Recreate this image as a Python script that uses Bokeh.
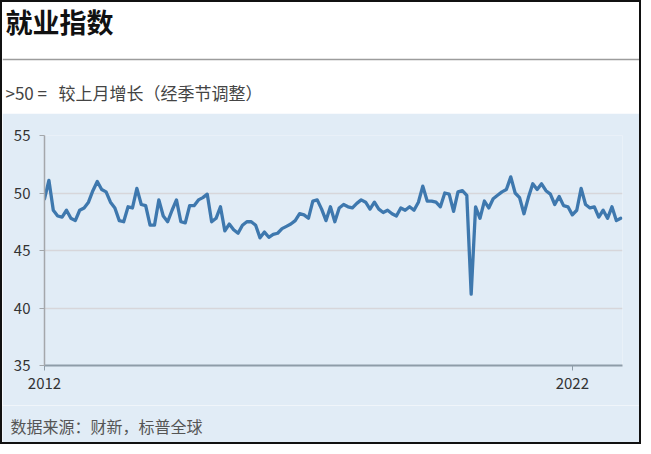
from bokeh.plotting import figure
from bokeh.models import Range1d, FixedTicker, Label, Span
from bokeh.layouts import column
from bokeh.embed import file_html
from bokeh.resources import INLINE

# ---- data (monthly, Jan 2012 - Dec 2022) ----
start_year = 2012
employment_index = [
    49.5, 51.1, 48.5, 48.0, 47.9, 48.5, 47.8, 47.6, 48.5, 48.7, 49.2, 50.2,   # 2012
    51.0, 50.3, 50.1, 49.2, 48.7, 47.6, 47.5, 48.8, 48.7, 50.4, 49.0, 48.9,   # 2013
    47.2, 47.2, 49.4, 48.0, 47.5, 48.5, 49.4, 47.5, 47.4, 48.9, 48.9, 49.4,   # 2014
    49.6, 49.9, 47.5, 47.8, 48.8, 46.7, 47.3, 46.8, 46.5, 47.2, 47.5, 47.5,   # 2015
    47.2, 46.1, 46.6, 46.15, 46.4, 46.5, 46.9, 47.1, 47.3, 47.6, 48.2, 48.1,  # 2016
    47.8, 49.3, 49.4, 48.6, 47.6, 48.8, 47.5, 48.7, 49.0, 48.8, 48.7, 49.1,   # 2017
    49.4, 49.2, 48.6, 49.2, 48.6, 48.3, 48.5, 48.2, 48.0, 48.7, 48.5, 48.8,   # 2018
    48.5, 49.2, 50.6, 49.3, 49.3, 49.2, 48.8, 50.0, 49.9, 48.4, 50.1, 50.2,   # 2019
    49.8, 41.2, 48.8, 47.8, 49.3, 48.7, 49.5, 49.8, 50.1, 50.3, 51.4, 50.0,   # 2020
    49.6, 48.2, 49.6, 50.8, 50.3, 50.8, 50.2, 49.9, 49.0, 49.7, 48.9, 48.8,   # 2021
    48.1, 48.5, 50.4, 49.0, 48.7, 48.8, 47.9, 48.5, 47.8, 48.8, 47.6, 47.8,   # 2022
]
x_years = [start_year + m / 12 for m in range(len(employment_index))]
y_ticks = [35, 40, 45, 50, 55]
x_ticks = [2012, 2022]

title_text = "就业指数"
subtitle_text = ">50 =\u00a0\u00a0\u00a0较上月增长（经季节调整）"
source_text = "数据来源：财新，标普全球"

FONT = "Noto Sans CJK SC"
BLUE = "#E1ECF6"
LINE = "#3E78AE"
W = 637
HEAD_H, MAIN_H, FOOT_H = 111, 292, 37


def no_align(fig):
    try:
        fig.frame_align = False
    except Exception:
        pass


def text_panel(height, bg):
    f = figure(width=W, height=height, x_range=Range1d(0, W), y_range=Range1d(0, height),
               x_axis_location=None, y_axis_location=None, toolbar_location=None,
               output_backend="svg", min_border=0)
    f.outline_line_color = None
    f.background_fill_color = bg
    f.border_fill_color = bg
    f.grid.grid_line_color = None
    no_align(f)
    return f


# ---- header (white) ----
head = text_panel(HEAD_H, "white")
head.add_layout(Label(x=3, y=HEAD_H - 19, text=title_text, text_font=FONT,
                      text_font_style="bold", text_font_size="27px",
                      text_baseline="middle", text_color="#111111"))
head.add_layout(Span(location=HEAD_H - 57, dimension="width", line_color="#9C9C9C",
                     line_width=1.5))
head.add_layout(Label(x=3, y=HEAD_H - 90, text=subtitle_text, text_font=FONT,
                      text_font_size="17px", text_baseline="middle", text_color="#444444"))

# ---- main chart ----
p = figure(width=W, height=MAIN_H, x_range=Range1d(2012, 2022.95), y_range=Range1d(35, 55),
           toolbar_location=None, output_backend="svg",
           min_border_left=42, min_border_right=17, min_border_top=22, min_border_bottom=40)
no_align(p)
p.background_fill_color = BLUE
p.border_fill_color = BLUE
p.outline_line_color = None

p.line(x_years, employment_index, line_color=LINE, line_width=3.3,
       line_join="round", line_cap="round")

p.xgrid.grid_line_color = None
p.ygrid.ticker = FixedTicker(ticks=y_ticks)
p.ygrid.grid_line_color = "#D7D6DA"
p.ygrid.grid_line_width = 1.5

p.yaxis.ticker = FixedTicker(ticks=y_ticks)
p.yaxis.axis_line_color = "#A4A7AB"
p.yaxis.axis_line_width = 1.5
p.yaxis.major_tick_line_color = "#A4A7AB"
p.yaxis.major_tick_out = 5
p.yaxis.major_tick_in = 0
p.yaxis.minor_tick_line_color = None
p.yaxis.major_label_text_font = FONT
p.yaxis.major_label_text_font_size = "15px"
p.yaxis.major_label_text_color = "#333333"
p.yaxis.major_label_standoff = 9

p.xaxis.ticker = FixedTicker(ticks=x_ticks)
p.xaxis.axis_line_color = "#8E9CA8"
p.xaxis.axis_line_width = 2
p.xaxis.major_tick_line_color = "#8E9CA8"
p.xaxis.major_tick_out = 5
p.xaxis.major_tick_in = 0
p.xaxis.minor_tick_line_color = None
p.xaxis.major_label_text_font = FONT
p.xaxis.major_label_text_font_size = "15px"
p.xaxis.major_label_text_color = "#333333"
p.xaxis.major_label_standoff = 7

# ---- footer (source) ----
foot = text_panel(FOOT_H, BLUE)
foot.add_layout(Label(x=8, y=FOOT_H - 20, text=source_text, text_font=FONT,
                      text_font_size="16px", text_baseline="middle", text_color="#555555"))

layout = column(head, p, foot, spacing=0, styles={"border": "2px solid #111111"})
open("out.html", "w").write(file_html(layout, INLINE))
